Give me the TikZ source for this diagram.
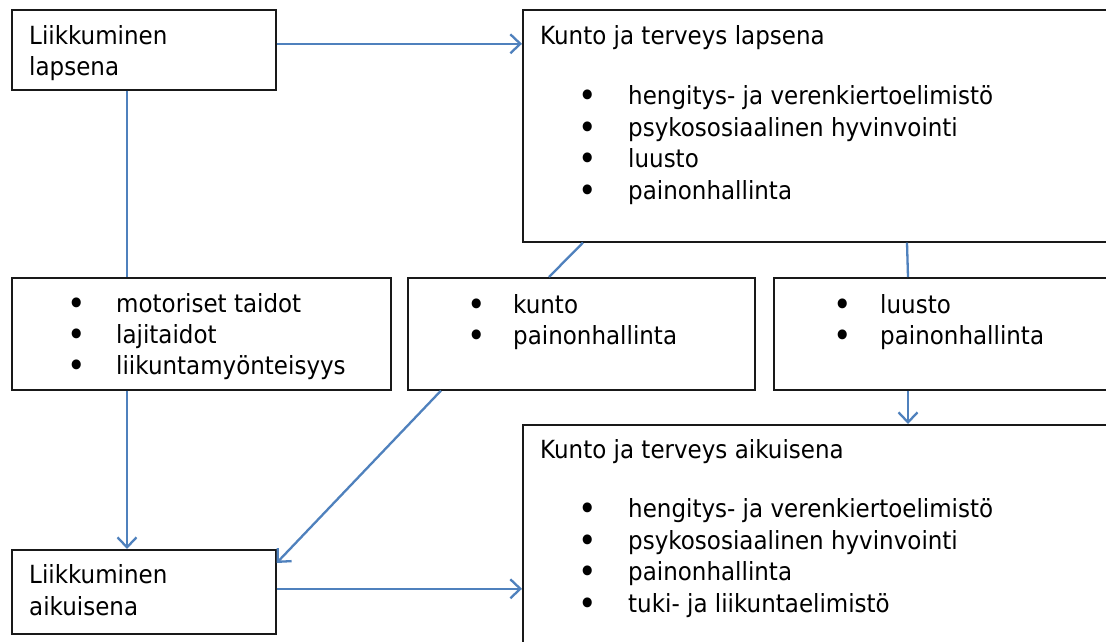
\documentclass[tikz,border=0pt]{standalone}
\usepackage{fontspec}
\setmainfont{DejaVu Sans}[FakeStretch=0.92]
\usetikzlibrary{arrows.meta}
\definecolor{linkblue}{HTML}{4F81BD}
\begin{document}
\begin{tikzpicture}[x=1pt,y=-1pt,
  box/.style={draw=black!90,line width=1.6pt,anchor=north west,inner sep=0pt},
  txt/.style={anchor=base west,inner sep=0pt,font=\fontsize{25}{30}\selectfont,text=black},
  bul/.style={anchor=base,inner sep=0pt,font=\fontsize{34}{36}\selectfont,text=black},
  conn/.style={draw=linkblue,line width=2.3pt},
  arr/.style={conn,-{Straight Barb[length=10pt,width=19pt,line width=2.3pt]}}]
\useasboundingbox (0,0) rectangle (1106,642);
\fill[white] (0,0) rectangle (1106,642);
\clip (0,0) rectangle (1106,642);
% boxes
\node[box,minimum width=264pt,minimum height=80pt] (A) at (11,9) {};
\node[box,minimum width=600pt,minimum height=232pt] (K1) at (522,9) {};
\node[box,minimum width=379pt,minimum height=112pt] (B) at (11,277) {};
\node[box,minimum width=347pt,minimum height=112pt] (C) at (407,277) {};
\node[box,minimum width=350pt,minimum height=112pt] (D) at (773,277) {};
\node[box,minimum width=600pt,minimum height=240pt] (K2) at (522,424) {};
\node[box,minimum width=264pt,minimum height=84pt] (E) at (11,549) {};
% texts A
\node[txt] (a1) at (29,45) {Liikkuminen};
\node[txt] (a2) at (29,76) {lapsena};
% K1
\node[txt] (k1t) at (540,45) {Kunto ja terveys lapsena};
\node[bul] (k1b1) at (588,107) {•};
\node[txt] (k1a) at (628,104) {hengitys- ja verenkiertoelimistö};
\node[bul] (k1b2) at (588,139) {•};
\node[txt] (k1b) at (628,136) {psykososiaalinen hyvinvointi};
\node[bul] (k1b3) at (588,170) {•};
\node[txt] (k1c) at (628,167) {luusto};
\node[bul] (k1b4) at (588,202) {•};
\node[txt] (k1d) at (628,199) {painonhallinta};
% B
\node[bul] (bb1) at (77,315) {•};
\node[txt] (b1) at (116,312) {motoriset taidot};
\node[bul] (bb2) at (77,346) {•};
\node[txt] (b2) at (116,343) {lajitaidot};
\node[bul] (bb3) at (77,377) {•};
\node[txt] (b3) at (116,374) {liikuntamyönteisyys};
% C
\node[bul] (cb1) at (477,316) {•};
\node[txt] (c1) at (513,313) {kunto};
\node[bul] (cb2) at (477,347) {•};
\node[txt] (c2) at (513,344) {painonhallinta};
% D
\node[bul] (db1) at (843,316) {•};
\node[txt] (d1) at (880,313) {luusto};
\node[bul] (db2) at (843,347) {•};
\node[txt] (d2) at (880,344) {painonhallinta};
% K2
\node[txt] (k2t) at (540,458) {Kunto ja terveys aikuisena};
\node[bul] (k2b1) at (588,520) {•};
\node[txt] (k2a) at (628,517) {hengitys- ja verenkiertoelimistö};
\node[bul] (k2b2) at (588,552) {•};
\node[txt] (k2b) at (628,549) {psykososiaalinen hyvinvointi};
\node[bul] (k2b3) at (588,583) {•};
\node[txt] (k2c) at (628,580) {painonhallinta};
\node[bul] (k2b4) at (588,615) {•};
\node[txt] (k2d) at (628,612) {tuki- ja liikuntaelimistö};
% E
\node[txt] (e1) at (29,583) {Liikkuminen};
\node[txt] (e2) at (29,615) {aikuisena};
% connectors
\draw[arr] ([yshift=6pt]A.east) -- ([yshift=6pt]A.east -| K1.west);
\draw[conn] ([xshift=116pt]A.south west) -- ([xshift=116pt]B.north west);
\draw[arr] ([xshift=116pt]B.south west) -- ([xshift=116pt]E.north west);
\draw[conn] ([xshift=61pt]K1.south west) -- ([xshift=142pt]C.north west);
\draw[arr] ([xshift=34pt]C.south west) -- ([yshift=-14pt]E.north east);
\draw[conn] ([xshift=385pt]K1.south west) -- ([xshift=135pt]D.north west);
\draw[arr] ([xshift=135pt]D.south west) -- ([xshift=386pt]K2.north west);
\draw[arr] ([yshift=3pt]E.east) -- ([yshift=3pt]E.east -| K2.west);
\end{tikzpicture}
\end{document}
